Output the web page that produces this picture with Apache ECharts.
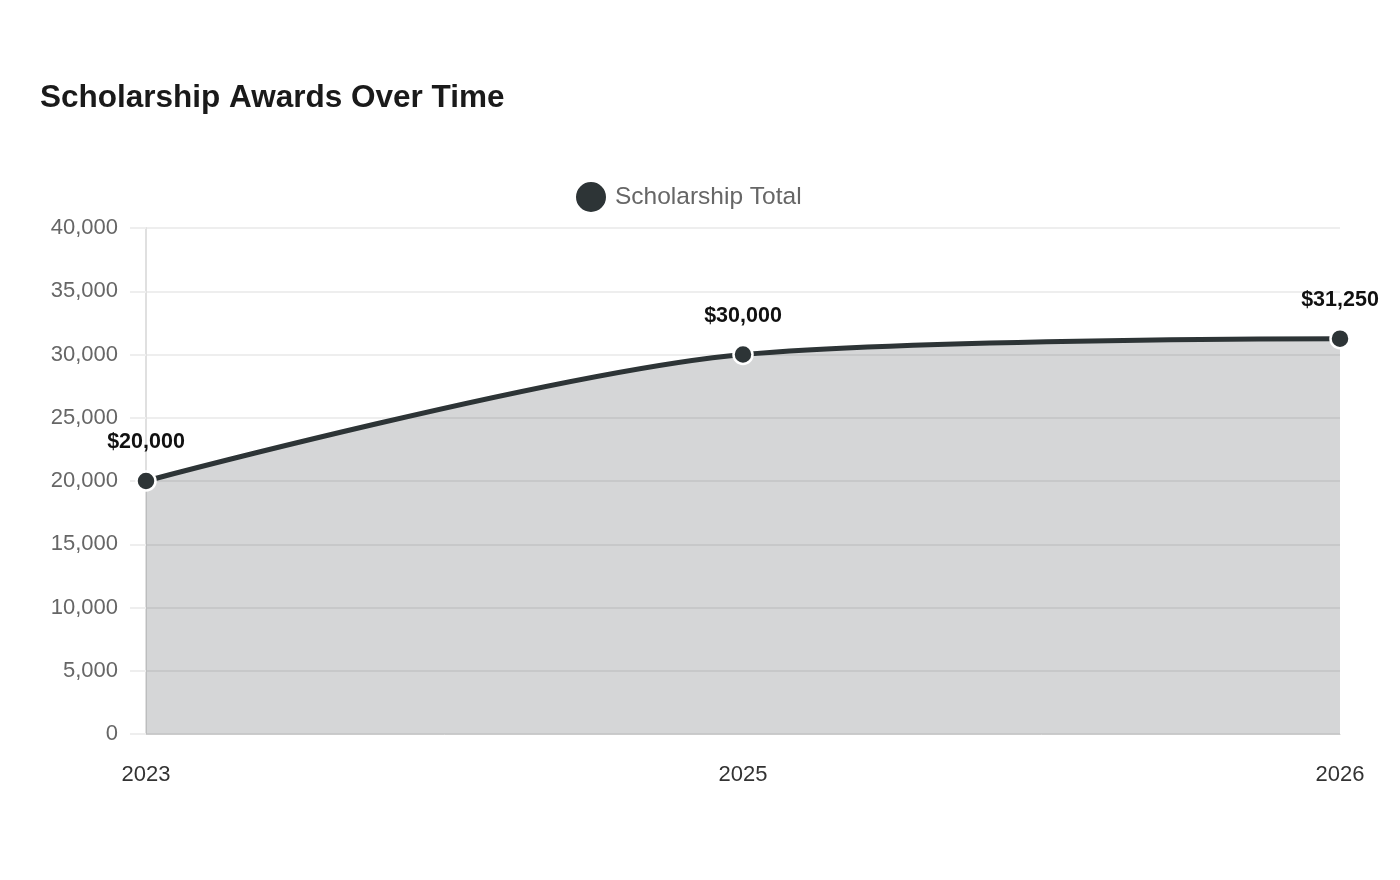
<!DOCTYPE html>
<html>
<head>
<meta charset="utf-8">
<script src="https://cdn.jsdelivr.net/npm/echarts@6/dist/echarts.min.js"></script>
<style>
  html, body { margin: 0; padding: 0; background: #fff; }
  #main { width: 1400px; height: 880px; }
</style>
</head>
<body>
<div id="main"></div>
<script>
// data
var years = ['2023', '2025', '2026'];
var totals = [20000, 30000, 31250];

var chart = echarts.init(document.getElementById('main'));

var option = {
  backgroundColor: '#fff',
  textStyle: { fontFamily: 'Liberation Sans, Arial, sans-serif' },
  title: {
    text: 'Scholarship Awards Over Time',
    left: 35,
    top: 77,
    textStyle: { fontSize: 31.5, fontWeight: 'bold', color: '#1a1a1a' }
  },
  legend: {
    top: 175,
    left: 569,
    icon: 'circle',
    itemWidth: 32,
    itemHeight: 32,
    textStyle: { fontSize: 24.5, color: '#666', padding: [0, 0, 0, 3] },
    data: ['Scholarship Total']
  },
  grid: { left: 146, right: 60, top: 228, bottom: 146, containLabel: false },
  xAxis: {
    type: 'category',
    data: years,
    boundaryGap: false,
    axisLine: { lineStyle: { color: '#ccc' } },
    axisTick: { show: false },
    axisLabel: { fontSize: 22, color: '#333', margin: 30 }
  },
  yAxis: {
    type: 'value',
    min: 0,
    max: 40000,
    interval: 5000,
    axisLine: { show: true, lineStyle: { color: '#e0e0e0', width: 2 } },
    axisTick: { show: true, length: 16, lineStyle: { color: '#eee', width: 2 } },
    splitLine: { lineStyle: { color: '#eee', width: 2 } },
    axisLabel: {
      fontSize: 22,
      color: '#666',
      margin: 28,
      formatter: function (v) { return v.toLocaleString('en-US'); }
    }
  },
  series: [{
    name: 'Scholarship Total',
    type: 'line',
    data: totals,
    smooth: 0.3,
    symbol: 'circle',
    symbolSize: 19,
    itemStyle: { color: '#2d3436', borderColor: '#fff', borderWidth: 2.5 },
    lineStyle: { color: '#2d3436', width: 5 },
    areaStyle: { color: '#2d3436', opacity: 0.2 },
    label: {
      show: true,
      position: 'top',
      distance: 17,
      fontSize: 21.5,
      fontWeight: 'bold',
      color: '#111',
      formatter: function (p) { return '$' + p.value.toLocaleString('en-US'); }
    }
  }]
};

chart.setOption(option);
</script>
</body>
</html>
